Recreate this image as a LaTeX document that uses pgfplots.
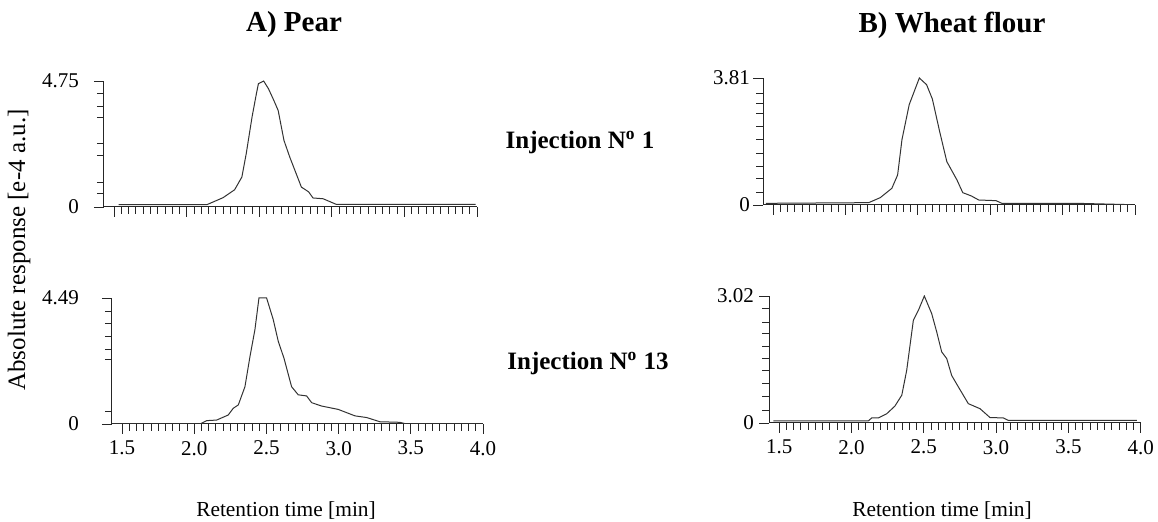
\documentclass[border=0pt]{standalone}
\usepackage{fontspec}
\setmainfont{Liberation Serif}
\usepackage{pgfplots}
\pgfplotsset{compat=1.18}

\pgfplotsset{
  chrom/.style={
    scale only axis, anchor=south west,
    axis x line*=bottom, axis y line*=left,
    axis line style={line width=0.5pt, black!85},
    enlargelimits=false,
    xmin=1.43, xmax=4.0,
    xtick={1.5,2.0,2.5,3.0,3.5,4.0},
    minor x tick num=9,
    tick align=outside,
    major tick length=5pt, minor tick length=3.5pt,
    every tick/.style={black!85, line width=0.45pt},
    tick label style={font=\fontsize{10.5}{12}\selectfont},
    /pgf/number format/assume math mode=true,
    xticklabel style={/pgf/number format/fixed, /pgf/number format/fixed zerofill,
                      /pgf/number format/precision=1},
    yticklabel style={/pgf/number format/fixed, /pgf/number format/precision=2},
  },
  trace/.style={black!80, line width=0.5pt, no marks},
}

\begin{document}
\begin{tikzpicture}
\path[use as bounding box] (0,0) rectangle (579pt,-261pt);

% ---------------------------------------------------------- A) Pear, inj. 1
\begin{axis}[chrom, at={(52pt,-103.5pt)}, width=186.5pt, height=63pt,
  ymin=0, ymax=4.75, ytick={0,4.75},
  minor ytick={0.5,0.94,1.95,2.41,3.37,3.8,4.27},
  xticklabels={}, yticklabel style={xshift=-4pt}]
  \addplot[trace] coordinates {
    (1.53,0.09) (2.14,0.09) (2.25,0.35) (2.33,0.65) (2.38,1.13) (2.41,2.01)
    (2.45,3.39) (2.48,4.27) (2.494,4.65) (2.53,4.75) (2.563,4.46) (2.60,4.02)
    (2.63,3.64) (2.67,2.51) (2.71,1.88) (2.79,0.75) (2.84,0.57) (2.87,0.34)
    (2.94,0.31) (3.03,0.10) (3.99,0.10)};
\end{axis}

% ---------------------------------------------------------- A) Pear, inj. 13
\begin{axis}[chrom, at={(56pt,-212pt)}, width=185.5pt, height=63pt,
  ymin=0, ymax=4.49, ytick={0,4.49},
  minor ytick={0.44,2.29,2.67,3.12,3.60,4.01},
  yticklabel style={xshift=-8pt}]
  \addplot[trace] coordinates {
    (1.43,0) (2.039,0) (2.086,0.12) (2.155,0.14) (2.235,0.32) (2.27,0.56)
    (2.305,0.68) (2.351,1.33) (2.386,2.41) (2.42,3.36) (2.448,4.49) (2.501,4.49)
    (2.547,3.72) (2.582,2.94) (2.621,2.35) (2.674,1.33) (2.72,1.04) (2.778,1.00)
    (2.813,0.76) (2.882,0.64) (2.997,0.52) (3.113,0.29) (3.194,0.23) (3.286,0.08)
    (3.424,0.06) (3.471,0) (3.99,0)};
\end{axis}

% ---------------------------------------------------- B) Wheat flour, inj. 1
\begin{axis}[chrom, at={(381.5pt,-102.5pt)}, width=186pt, height=63.5pt,
  ymin=0, ymax=3.81, ytick={0,3.81},
  minor ytick={0.37,0.80,1.15,1.55,1.96,2.36,2.76,3.06,3.36},
  xticklabels={}, yticklabel style={xshift=2pt}]
  \addplot[trace] coordinates {
    (1.45,0.05) (2.16,0.07) (2.24,0.22) (2.32,0.50) (2.36,0.90) (2.39,1.96)
    (2.44,3.01) (2.51,3.81) (2.56,3.61) (2.60,3.18) (2.65,2.21) (2.70,1.30)
    (2.77,0.75) (2.81,0.37) (2.87,0.27) (2.92,0.15) (3.04,0.13) (3.08,0.05)
    (3.60,0.05) (3.97,0.01)};
\end{axis}

% --------------------------------------------------- B) Wheat flour, inj. 13
\begin{axis}[chrom, at={(384.5pt,-211.5pt)}, width=185.85pt, height=63.5pt,
  ymin=0, ymax=3.02, ytick={0,3.02},
  minor ytick={0.30,0.62,0.94,1.25,1.53,1.81,2.12,2.40,2.72},
  yticklabel style={xshift=1pt}]
  \addplot[trace] coordinates {
    (1.46,0.05) (2.117,0.05) (2.14,0.12) (2.186,0.12) (2.244,0.22) (2.30,0.40)
    (2.348,0.66) (2.382,1.25) (2.428,2.44) (2.463,2.68) (2.504,3.02) (2.555,2.60)
    (2.59,2.16) (2.624,1.69) (2.659,1.53) (2.693,1.13) (2.739,0.86) (2.808,0.46)
    (2.889,0.34) (2.958,0.13) (3.05,0.12) (3.085,0.06) (3.973,0.06)};
\end{axis}

% ------------------------------------------------------------------- text
\node[font=\fontsize{14.5}{16}\selectfont\bfseries] at (147pt,-12.5pt) {A) Pear};
\node[font=\fontsize{14.5}{16}\selectfont\bfseries] at (476pt,-12.5pt) {B) Wheat flour};
\node[font=\fontsize{12.5}{14}\selectfont\bfseries] at (290pt,-71pt) {Injection N\textsuperscript{o} 1};
\node[font=\fontsize{12.5}{14}\selectfont\bfseries] at (294pt,-181.5pt) {Injection N\textsuperscript{o} 13};
\node[font=\fontsize{12.5}{14}\selectfont, rotate=90] at (9.5pt,-125pt) {Absolute response [e-4 a.u.]};
\node[font=\fontsize{10.7}{13}\selectfont] at (143pt,-255.5pt) {Retention time [min]};
\node[font=\fontsize{10.7}{13}\selectfont] at (471pt,-255.5pt) {Retention time [min]};
\end{tikzpicture}
\end{document}
